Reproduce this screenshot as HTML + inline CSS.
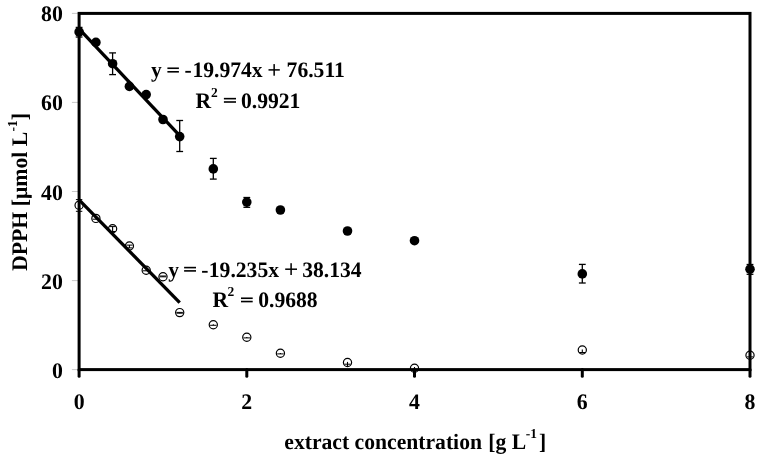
<!DOCTYPE html><html><head><meta charset="utf-8"><style>html,body{margin:0;padding:0;background:#fff;}svg{display:block;will-change:transform;}text{font-family:"Liberation Serif",serif;font-weight:bold;fill:#000;text-rendering:geometricPrecision;}</style></head><body><svg width="761" height="460" viewBox="0 0 761 460"><line x1="71.9" y1="369.6" x2="78" y2="369.6" stroke="#c8c8c8" stroke-width="1"/><line x1="71.9" y1="280.6" x2="78" y2="280.6" stroke="#c8c8c8" stroke-width="1"/><line x1="71.9" y1="191.5" x2="78" y2="191.5" stroke="#c8c8c8" stroke-width="1"/><line x1="71.9" y1="102.4" x2="78" y2="102.4" stroke="#c8c8c8" stroke-width="1"/><line x1="71.9" y1="13.4" x2="78" y2="13.4" stroke="#c8c8c8" stroke-width="1"/><line x1="79.1" y1="369.6" x2="79.1" y2="376.3" stroke="#000" stroke-width="3" stroke-linecap="round"/><line x1="246.8" y1="369.6" x2="246.8" y2="376.3" stroke="#000" stroke-width="3" stroke-linecap="round"/><line x1="414.5" y1="369.6" x2="414.5" y2="376.3" stroke="#000" stroke-width="3" stroke-linecap="round"/><line x1="582.3" y1="369.6" x2="582.3" y2="376.3" stroke="#000" stroke-width="3" stroke-linecap="round"/><line x1="750.0" y1="369.6" x2="750.0" y2="376.3" stroke="#000" stroke-width="3" stroke-linecap="round"/><rect x="79.1" y="13.4" width="670.9" height="356.2" fill="none" stroke="#000" stroke-width="3"/><line x1="79.1" y1="28.93" x2="179.7" y2="135.66" stroke="#000" stroke-width="3.3"/><line x1="79.1" y1="199.81" x2="179.7" y2="302.58" stroke="#000" stroke-width="3.3"/><line x1="79.1" y1="27.4" x2="79.1" y2="37.0" stroke="#000" stroke-width="1.3"/><line x1="75.7" y1="27.4" x2="82.5" y2="27.4" stroke="#000" stroke-width="1.3"/><line x1="75.7" y1="37.0" x2="82.5" y2="37.0" stroke="#000" stroke-width="1.3"/><line x1="112.6" y1="52.9" x2="112.6" y2="74.6" stroke="#000" stroke-width="1.3"/><line x1="109.2" y1="52.9" x2="116.0" y2="52.9" stroke="#000" stroke-width="1.3"/><line x1="109.2" y1="74.6" x2="116.0" y2="74.6" stroke="#000" stroke-width="1.3"/><line x1="179.7" y1="120.5" x2="179.7" y2="151.5" stroke="#000" stroke-width="1.3"/><line x1="176.3" y1="120.5" x2="183.1" y2="120.5" stroke="#000" stroke-width="1.3"/><line x1="176.3" y1="151.5" x2="183.1" y2="151.5" stroke="#000" stroke-width="1.3"/><line x1="213.3" y1="158.4" x2="213.3" y2="179.1" stroke="#000" stroke-width="1.3"/><line x1="209.9" y1="158.4" x2="216.7" y2="158.4" stroke="#000" stroke-width="1.3"/><line x1="209.9" y1="179.1" x2="216.7" y2="179.1" stroke="#000" stroke-width="1.3"/><line x1="246.8" y1="197.5" x2="246.8" y2="207.3" stroke="#000" stroke-width="1.3"/><line x1="243.4" y1="197.5" x2="250.2" y2="197.5" stroke="#000" stroke-width="1.3"/><line x1="243.4" y1="207.3" x2="250.2" y2="207.3" stroke="#000" stroke-width="1.3"/><line x1="582.3" y1="264.4" x2="582.3" y2="283.0" stroke="#000" stroke-width="1.3"/><line x1="578.9" y1="264.4" x2="585.7" y2="264.4" stroke="#000" stroke-width="1.3"/><line x1="578.9" y1="283.0" x2="585.7" y2="283.0" stroke="#000" stroke-width="1.3"/><line x1="750.0" y1="264.5" x2="750.0" y2="274.3" stroke="#000" stroke-width="1.3"/><line x1="746.6" y1="264.5" x2="753.4" y2="264.5" stroke="#000" stroke-width="1.3"/><line x1="746.6" y1="274.3" x2="753.4" y2="274.3" stroke="#000" stroke-width="1.3"/><circle cx="79.1" cy="31.9" r="4.8" fill="#000"/><circle cx="95.9" cy="42.4" r="4.8" fill="#000"/><circle cx="112.6" cy="63.7" r="4.8" fill="#000"/><circle cx="129.4" cy="86.4" r="4.8" fill="#000"/><circle cx="146.2" cy="94.6" r="4.8" fill="#000"/><circle cx="163.0" cy="119.5" r="4.8" fill="#000"/><circle cx="179.7" cy="136.6" r="4.8" fill="#000"/><circle cx="213.3" cy="168.9" r="4.8" fill="#000"/><circle cx="246.8" cy="202.1" r="4.8" fill="#000"/><circle cx="280.4" cy="210.0" r="4.8" fill="#000"/><circle cx="347.5" cy="231.0" r="4.8" fill="#000"/><circle cx="414.5" cy="240.7" r="4.8" fill="#000"/><circle cx="582.3" cy="273.9" r="4.8" fill="#000"/><circle cx="750.0" cy="269.2" r="4.8" fill="#000"/><circle cx="79.1" cy="205.2" r="4.1" fill="none" stroke="#000" stroke-width="1.2"/><circle cx="95.9" cy="218.4" r="4.1" fill="none" stroke="#000" stroke-width="1.2"/><circle cx="112.6" cy="228.7" r="4.1" fill="none" stroke="#000" stroke-width="1.2"/><circle cx="129.4" cy="246.0" r="4.1" fill="none" stroke="#000" stroke-width="1.2"/><circle cx="146.2" cy="270.3" r="4.1" fill="none" stroke="#000" stroke-width="1.2"/><circle cx="163.0" cy="276.7" r="4.1" fill="none" stroke="#000" stroke-width="1.2"/><circle cx="179.7" cy="312.6" r="4.1" fill="none" stroke="#000" stroke-width="1.2"/><circle cx="213.3" cy="324.8" r="4.1" fill="none" stroke="#000" stroke-width="1.2"/><circle cx="246.8" cy="337.2" r="4.1" fill="none" stroke="#000" stroke-width="1.2"/><circle cx="280.4" cy="353.2" r="4.1" fill="none" stroke="#000" stroke-width="1.2"/><circle cx="347.5" cy="362.5" r="4.1" fill="none" stroke="#000" stroke-width="1.2"/><circle cx="414.5" cy="368.3" r="4.1" fill="none" stroke="#000" stroke-width="1.2"/><circle cx="582.3" cy="350.0" r="4.1" fill="none" stroke="#000" stroke-width="1.2"/><circle cx="750.0" cy="355.2" r="4.1" fill="none" stroke="#000" stroke-width="1.2"/><line x1="79.1" y1="199.6" x2="79.1" y2="211.3" stroke="#000" stroke-width="1.1"/><line x1="75.9" y1="199.6" x2="82.3" y2="199.6" stroke="#000" stroke-width="1.0"/><line x1="75.9" y1="211.3" x2="82.3" y2="211.3" stroke="#000" stroke-width="1.0"/><line x1="95.9" y1="218.3" x2="95.9" y2="219.2" stroke="#000" stroke-width="1.1"/><line x1="92.7" y1="219.2" x2="99.1" y2="219.2" stroke="#000" stroke-width="1.0"/><line x1="112.6" y1="226.6" x2="112.6" y2="231.5" stroke="#000" stroke-width="1.1"/><line x1="109.4" y1="226.6" x2="115.8" y2="226.6" stroke="#000" stroke-width="1.0"/><line x1="109.4" y1="231.5" x2="115.8" y2="231.5" stroke="#000" stroke-width="1.0"/><line x1="129.4" y1="245.1" x2="129.4" y2="247.9" stroke="#000" stroke-width="1.1"/><line x1="126.2" y1="245.1" x2="132.6" y2="245.1" stroke="#000" stroke-width="1.0"/><line x1="126.2" y1="247.9" x2="132.6" y2="247.9" stroke="#000" stroke-width="1.0"/><line x1="146.2" y1="270.0" x2="146.2" y2="270.8" stroke="#000" stroke-width="1.1"/><line x1="143.0" y1="270.8" x2="149.4" y2="270.8" stroke="#000" stroke-width="1.0"/><line x1="163.0" y1="276.0" x2="163.0" y2="276.8" stroke="#000" stroke-width="1.1"/><line x1="159.8" y1="276.0" x2="166.2" y2="276.0" stroke="#000" stroke-width="1.0"/><line x1="159.8" y1="276.8" x2="166.2" y2="276.8" stroke="#000" stroke-width="1.0"/><line x1="179.7" y1="312.4" x2="179.7" y2="313.2" stroke="#000" stroke-width="1.1"/><line x1="176.5" y1="312.4" x2="182.9" y2="312.4" stroke="#000" stroke-width="1.0"/><line x1="176.5" y1="313.2" x2="182.9" y2="313.2" stroke="#000" stroke-width="1.0"/><line x1="213.3" y1="324.2" x2="213.3" y2="325.3" stroke="#000" stroke-width="1.1"/><line x1="210.1" y1="325.3" x2="216.5" y2="325.3" stroke="#000" stroke-width="1.0"/><line x1="246.8" y1="336.9" x2="246.8" y2="337.9" stroke="#000" stroke-width="1.1"/><line x1="243.6" y1="337.9" x2="250.0" y2="337.9" stroke="#000" stroke-width="1.0"/><line x1="280.4" y1="352.9" x2="280.4" y2="353.9" stroke="#000" stroke-width="1.1"/><line x1="277.2" y1="353.9" x2="283.6" y2="353.9" stroke="#000" stroke-width="1.0"/><line x1="347.5" y1="361.9" x2="347.5" y2="366.5" stroke="#000" stroke-width="1.1"/><line x1="344.3" y1="364.2" x2="350.7" y2="364.2" stroke="#000" stroke-width="1.0"/><line x1="414.5" y1="367" x2="414.5" y2="370" stroke="#000" stroke-width="1.1"/><line x1="582.3" y1="349.6" x2="582.3" y2="352.5" stroke="#000" stroke-width="1.1"/><line x1="579.1" y1="352.5" x2="585.5" y2="352.5" stroke="#000" stroke-width="1.0"/><line x1="750.0" y1="355" x2="750.0" y2="357" stroke="#000" stroke-width="1.1"/><line x1="746.8" y1="356.9" x2="753.2" y2="356.9" stroke="#000" stroke-width="1.0"/><text transform="translate(62.80,377.60) scale(1,1.02)" font-size="21.8" text-anchor="end">0</text><text transform="translate(62.80,288.55) scale(1,1.02)" font-size="21.8" text-anchor="end">20</text><text transform="translate(62.80,199.50) scale(1,1.02)" font-size="21.8" text-anchor="end">40</text><text transform="translate(62.80,110.45) scale(1,1.02)" font-size="21.8" text-anchor="end">60</text><text transform="translate(62.80,21.40) scale(1,1.02)" font-size="21.8" text-anchor="end">80</text><text transform="translate(79.10,409.30) scale(1,1.02)" font-size="21.8" text-anchor="middle">0</text><text transform="translate(246.82,409.30) scale(1,1.02)" font-size="21.8" text-anchor="middle">2</text><text transform="translate(414.55,409.30) scale(1,1.02)" font-size="21.8" text-anchor="middle">4</text><text transform="translate(582.27,409.30) scale(1,1.02)" font-size="21.8" text-anchor="middle">6</text><text transform="translate(750.00,409.30) scale(1,1.02)" font-size="21.8" text-anchor="middle">8</text><text transform="translate(151.10,77.40) scale(1,1.02)" font-size="21.6">y</text><text transform="translate(184.40,77.40) scale(1,1.02)" font-size="21.6">-</text><text transform="translate(192.40,77.40) scale(1,1.02)" font-size="21.6">19.974x</text><text transform="translate(286.60,77.40) scale(1,1.02)" font-size="21.6">76.511</text><text transform="translate(168.20,276.80) scale(1,1.02)" font-size="21.6">y</text><text transform="translate(201.30,276.80) scale(1,1.02)" font-size="21.6">-</text><text transform="translate(208.80,276.80) scale(1,1.02)" font-size="21.6">19.235x</text><text transform="translate(302.20,276.80) scale(1,1.02)" font-size="21.6">38.134</text><text transform="translate(195.50,107.90) scale(1,1.02)" font-size="21.6">R</text><text transform="translate(211.10,96.80) scale(1,1.02)" font-size="13.5">2</text><text transform="translate(241.00,107.90) scale(1,1.02)" font-size="21.6">0.9921</text><text transform="translate(212.60,307.10) scale(1,1.02)" font-size="21.6">R</text><text transform="translate(227.60,296.20) scale(1,1.02)" font-size="13.5">2</text><text transform="translate(258.20,307.10) scale(1,1.02)" font-size="21.6">0.9688</text><rect x="167.4" y="67.45" width="11.5" height="1.6" fill="#000"/><rect x="167.4" y="71.00" width="11.5" height="1.6" fill="#000"/><rect x="223.9" y="97.85" width="12.1" height="1.6" fill="#000"/><rect x="223.9" y="101.20" width="12.1" height="1.6" fill="#000"/><rect x="184.1" y="266.80" width="11.9" height="1.6" fill="#000"/><rect x="184.1" y="270.10" width="11.9" height="1.6" fill="#000"/><rect x="241.0" y="297.45" width="11.7" height="1.6" fill="#000"/><rect x="241.0" y="300.75" width="11.7" height="1.6" fill="#000"/><rect x="268.5" y="69.15" width="11.3" height="1.5" fill="#000"/><rect x="273.40" y="64.1" width="1.5" height="11.6" fill="#000"/><rect x="285.2" y="268.45" width="11.8" height="1.5" fill="#000"/><rect x="290.35" y="263.2" width="1.5" height="11.8" fill="#000"/><text transform="translate(284.30,448.60) scale(1,1.02)" font-size="21.65">extract concentration</text><text transform="translate(488.30,448.60) scale(1,1.02)" font-size="21.65">[g L</text><text transform="translate(525.80,438.40) scale(1,1.02)" font-size="13.5">-1</text><text transform="translate(538.90,448.60) scale(1,1.02)" font-size="21.65">]</text><text transform="translate(27.00,271.10) rotate(-90) scale(1,1.02)" font-size="21.8">DPPH [μmol L<tspan font-size="13.5" dy="-10">-1</tspan><tspan dy="10">]</tspan></text></svg></body></html>
